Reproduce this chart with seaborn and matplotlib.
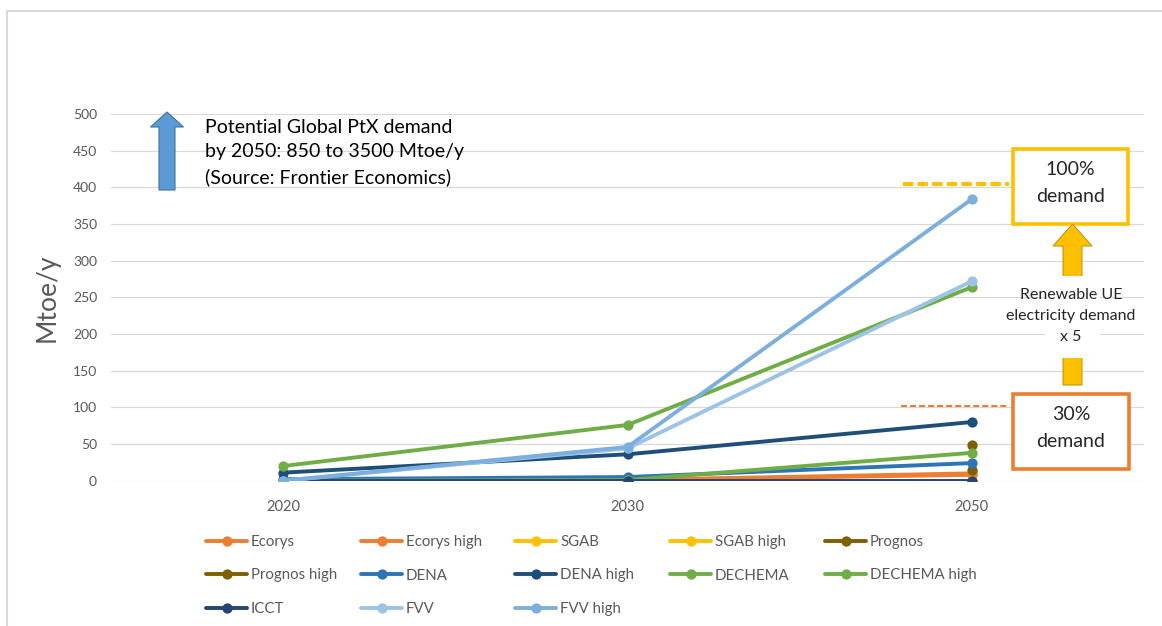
import numpy as np
import pandas as pd
import matplotlib
matplotlib.use("Agg")
import matplotlib.pyplot as plt
import seaborn as sns
from matplotlib.lines import Line2D
from matplotlib.patches import Rectangle, Polygon

# ---------------- data ----------------
years = ["2020", "2030", "2050"]
series = ["Ecorys", "Ecorys high", "SGAB", "SGAB high", "Prognos",
          "Prognos high", "DENA", "DENA high", "DECHEMA", "DECHEMA high",
          "ICCT", "FVV", "FVV high"]
colors = ["#ED7D31", "#ED7D31", "#FFC000", "#FFC000", "#7F6000",
          "#7F6000", "#2E75B6", "#1F4E79", "#70AD47", "#70AD47",
          "#264478", "#9DC3E6", "#7CAFDD"]
ecorys = [0, 1, 8]
ecorys_high = [0, 1, 10]
sgab = [0, 0, 0]
sgab_high = [0, 0, 0]
prognos = [np.nan, np.nan, 14]
prognos_high = [np.nan, np.nan, 48]
dena = [2, 5, 24]
dena_high = [11, 36, 80]
dechema = [0, 1, 38]
dechema_high = [20, 76, 264]
icct = [0, 0, 0]
fvv = [0, 44, 272]
fvv_high = [0, 46, 384]
values = [ecorys, ecorys_high, sgab, sgab_high, prognos, prognos_high,
          dena, dena_high, dechema, dechema_high, icct, fvv, fvv_high]
yticks = list(range(0, 501, 50))

rows = []
for name, vals in zip(series, values):
    for yr, v in zip(years, vals):
        rows.append({"series": name, "year": yr, "value": v})
df = pd.DataFrame(rows).dropna()

# ---------------- style ----------------
sns.set_theme(style="white")
plt.rcParams["font.family"] = ["Lato", "DejaVu Sans"]
plt.rcParams["lines.scale_dashes"] = False

W, H = 1162, 626
fig = plt.figure(figsize=(W / 100, H / 100), dpi=100)
fig.patch.set_facecolor("white")
ax = fig.add_axes([111 / W, 1 - 480.7 / H, 1033 / W, (480.7 - 114) / H])

palette = dict(zip(series, colors))
sns.lineplot(data=df, x="year", y="value", hue="series", hue_order=series,
             palette=palette, marker="o", markersize=7.4, markeredgewidth=0,
             linewidth=2.8, errorbar=None, legend=False, sort=False, ax=ax)

ax.set_xlim(-0.5, 2.5)
ax.set_ylim(0, 500)
ax.set_yticks(yticks)
ax.set_xlabel("")
ax.set_ylabel("Mtoe/y", fontsize=19, color="#595959")
ax.yaxis.set_label_coords((60 - 111) / 1033, 0.5)
ax.tick_params(axis="both", length=0, labelcolor="#595959")
ax.tick_params(axis="y", pad=10, labelsize=10)
ax.tick_params(axis="x", pad=14, labelsize=10.5)
sns.despine(ax=ax, left=True, bottom=True)
ax.yaxis.grid(True, color="#D9D9D9", linewidth=0.9)
ax.xaxis.grid(False)
ax.set_axisbelow(True)

# ---------------- legend (5 columns, row-major like Excel) ----------------
col_x = [206, 361, 515, 670, 825]
for c in range(5):
    idx = list(range(c, len(series), 5))
    handles = [Line2D([0], [0], color=colors[i], lw=2.8, marker="o",
                      markersize=7.4, markeredgewidth=0) for i in idx]
    labels = [series[i] for i in idx]
    leg = fig.legend(handles, labels, loc="upper left",
                     bbox_to_anchor=(col_x[c] / W, 1 - 535 / H),
                     frameon=False, borderpad=0, borderaxespad=0,
                     handlelength=2.75, handletextpad=0.25, labelspacing=1.3,
                     fontsize=10.8, numpoints=1)
    for t in leg.get_texts():
        t.set_color("#595959")

# ---------------- overlay annotations in pixel coordinates ----------------
ov = fig.add_axes([0, 0, 1, 1], zorder=10)
ov.set_xlim(0, W)
ov.set_ylim(H, 0)
ov.axis("off")
ov.patch.set_visible(False)

# frame
ov.plot([7, 7, W], [H, 11, 11], color="#D9D9D9", lw=1.5, solid_capstyle="butt")

# blue arrow + text
ov.add_patch(Polygon([(167, 112), (183.5, 127), (175, 127), (175, 190),
                      (159, 190), (159, 127), (150.5, 127)], closed=True,
                     facecolor="#5B9BD5", edgecolor="#41719C", lw=0.8))
ov.text(205, 152.5, "Potential Global PtX demand\nby 2050: 850 to 3500 Mtoe/y\n(Source: Frontier Economics)",
        ha="left", va="center", fontsize=14, color="#000000", linespacing=1.5)

# dashed reference lines
ov.plot([903, 1009], [183.5, 183.5], color="#FFC000", lw=2.9,
        linestyle=(0, (7.5, 3)), dash_capstyle="butt")
ov.plot([901, 1008], [406, 406], color="#ED7D31", lw=1.5,
        linestyle=(0, (4.3, 2.2)), dash_capstyle="butt")

# boxes
ov.add_patch(Rectangle((1013, 148.5), 115, 75, facecolor="white",
                       edgecolor="#FFC000", lw=2.6))
ov.text(1070.5, 183, "100%\ndemand", ha="center", va="center", fontsize=14,
        color="#262626", linespacing=1.7)
ov.add_patch(Rectangle((1013, 393.5), 116, 75, facecolor="white",
                       edgecolor="#ED7D31", lw=2.6))
ov.text(1071, 428, "30%\ndemand", ha="center", va="center", fontsize=14,
        color="#262626", linespacing=1.7)

# yellow arrow with text
ov.add_patch(Polygon([(1072.5, 224), (1092, 246), (1082, 246), (1082, 385),
                      (1063, 385), (1063, 246), (1053, 246)], closed=True,
                     facecolor="#FFC000", edgecolor="#BF9000", lw=0.7))
ov.add_patch(Rectangle((1045, 276), 55, 82, facecolor="white", edgecolor="none"))
ov.text(1071, 316, "Renewable UE\nelectricity demand\nx 5", ha="center",
        va="center", fontsize=11.5, color="#262626", linespacing=1.6)

fig.savefig("out.png", dpi=100, facecolor="white")
